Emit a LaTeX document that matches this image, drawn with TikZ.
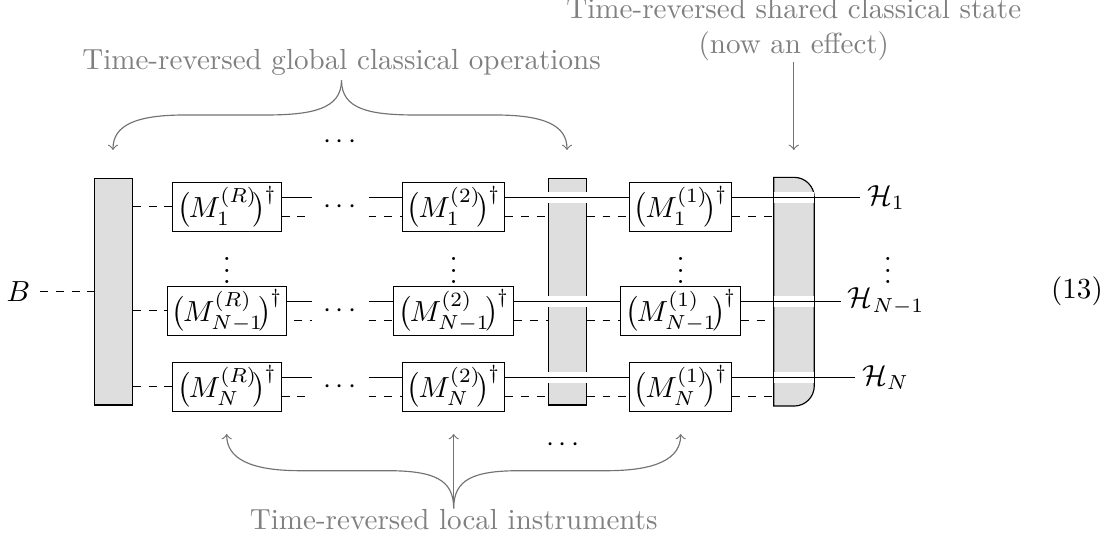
\documentclass[tikz,border=0pt]{standalone}
\usetikzlibrary{positioning}

\newcommand{\Mdag}[2]{$\big(\mkern-1mu M_{#1}^{(#2)}\mkern-3mu\big)^{\mkern-1mu\dagger}$}

\begin{document}
\begin{tikzpicture}
  [x=0.344pt,y=0.344pt,
   bar/.style={draw,fill=black!13,inner sep=0pt,minimum width=13.07pt,minimum height=77.9pt},
   gate/.style={draw,fill=white,inner xsep=1.5pt,inner ysep=0pt,minimum height=16.8pt},
   gap/.style={white,line width=3.66pt},
   classical/.style={dash pattern=on 2.7pt off 2.7pt},
   note/.style={black!50},
   link/.style={black!55},
   cusp/.style={out distance=10pt,in distance=16pt},
   hook/.style={out distance=17pt,in distance=8.5pt}]
  \useasboundingbox (0,0) rectangle (1113,539);

  % bars
  \node [bar] (barL) at (113.5,247.3) {};
  \node [bar] (barM) at (567.3,247.3) {};
  \node [inner sep=0pt,minimum width=13.55pt,minimum height=78.26pt] (barR) at (794,247.3) {};
  \draw [fill=black!13,rounded corners=6.9pt] (barR.north west) -- (barR.north east)
    -- (barR.south east) [sharp corners] -- (barR.south west) -- cycle;

  % one row of gates and wires per system
  \foreach \r/\y/\s/\hx/\h/\ds in {1/332.2/1/860/1/281.7, m/228.2/{N-1}/840.7/{N-1}/294, n/152.3/N/855/N/281.7} {
    \coordinate (up\r) at (0,\y+9.4);
    \coordinate (lo\r) at (0,\y-9.4);
    \node [gate] (mR\r) at (227,\y)   {\Mdag{\s}{R}};
    \node [gate] (mB\r) at (453.7,\y) {\Mdag{\s}{2}};
    \node [gate] (mA\r) at (680.7,\y) {\Mdag{\s}{1}};
    \node (dots\r) at (340,\y) {$\cdots$};
    \coordinate (start\r) at (\ds,\y);
    \coordinate (stop\r)  at (312,\y);
    \coordinate (go\r)    at (368.5,\y);
    \node [anchor=west,inner sep=2.3pt] (h\r) at (\hx,\y+9.4) {$\mathcal{H}_{\h}$};

    \draw [classical] (barL.east |- mR\r) -- (mR\r.west);
    \draw [classical] (start\r |- lo\r) -- (stop\r |- lo\r);
    \draw [classical] (go\r |- lo\r) -- (mB\r.west |- lo\r);
    \draw [classical] (mB\r.east |- lo\r) -- (barM.west |- lo\r);
    \draw [classical] (barM.east |- lo\r) -- (mA\r.west |- lo\r);
    \draw [classical] (mA\r.east |- lo\r) -- (barR.west |- lo\r);

    \draw [gap] (barM.west |- up\r) -- (barM.east |- up\r);
    \draw [gap] (barR.west |- up\r) -- (barR.east |- up\r);

    \draw (mR\r.east |- up\r) -- (stop\r |- up\r);
    \draw (go\r |- up\r) -- (mB\r.west |- up\r);
    \draw (mB\r.east |- up\r) -- (mA\r.west |- up\r);
    \draw (mA\r.east |- up\r) -- (h\r.west |- up\r);
  }

  \node (B) at (18.3,247.3) {$B$};
  \draw [classical] (B.east) -- (barL.west);

  \node (vdR) at (227,277)   {$\vdots$};
  \node (vdB) at (453.7,277) {$\vdots$};
  \node (vdA) at (680.7,277) {$\vdots$};
  \node (vdH) at (888,277)   {$\vdots$};
  \node (dotsT) at (340,397) {$\cdots$};
  \node (dotsD) at (563,94)  {$\cdots$};
  \node (eqno) at (1077,247.3) {(13)};

  % annotations
  \node [note,inner ysep=1.6pt] (noteG) at (341.5,477) {Time-reversed global classical operations};
  \node [note,align=center,inner ysep=0.3pt] (noteS) at (793.8,509.5) {Time-reversed shared classical state\\(now an effect)};
  \node [note,inner ysep=0.3pt] (noteL) at (453.7,19) {Time-reversed local instruments};

  \coordinate (tipGl) at (113,389);
  \coordinate (tipGr) at (567,389);
  \coordinate (inGl)  at (265,424);
  \coordinate (outGl) at (185,424);
  \coordinate (inGr)  at (416,424);
  \coordinate (outGr) at (495,424);
  \coordinate (tipS)  at (793.8,389);
  \coordinate (tipLl) at (226.7,105);
  \coordinate (tipLc) at (453.7,105);
  \coordinate (tipLr) at (680.7,105);
  \coordinate (inLl)  at (387,68.3);
  \coordinate (outLl) at (300,68.3);
  \coordinate (inLr)  at (520,68.3);
  \coordinate (outLr) at (607,68.3);

  \draw [link,->] (noteG.south) to [out=-90,in=0,cusp] (inGl) -- (outGl)
    to [out=180,in=90,hook] (tipGl);
  \draw [link,->] (noteG.south) to [out=-90,in=180,cusp] (inGr) -- (outGr)
    to [out=0,in=90,hook] (tipGr);
  \draw [link,->] (noteS.south) -- (tipS);
  \draw [link,->] (noteL.north) -- (tipLc);
  \draw [link,->] (noteL.north) to [out=90,in=0,cusp] (inLl) -- (outLl)
    to [out=180,in=-90,hook] (tipLl);
  \draw [link,->] (noteL.north) to [out=90,in=180,cusp] (inLr) -- (outLr)
    to [out=0,in=-90,hook] (tipLr);
\end{tikzpicture}
\end{document}
